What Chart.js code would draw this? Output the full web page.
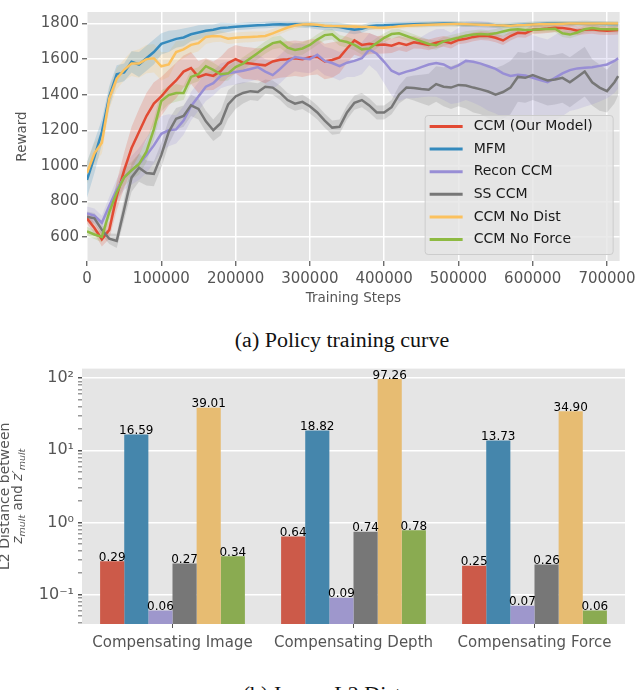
<!DOCTYPE html>
<html>
<head>
  <title>CCM policy training curve and L2 distance</title>
  <script src="https://cdn.jsdelivr.net/npm/chart.js"></script>
  <style>
    body { margin: 0; background: #fff; width: 640px; height: 690px; overflow: hidden; position: relative; }
    #curveChart { position: absolute; left: 0; top: 0; }
    #barChart { position: absolute; left: -2px; top: 355px; }
    .caption { position: absolute; left: 22px; width: 640px; text-align: center; font-family: 'Liberation Serif', 'Times New Roman', serif; font-size: 20px; line-height: 22px; color: #111; transform: scaleX(1.1); }
  </style>
</head>
<body>
  <canvas id="curveChart" width="640" height="312"></canvas>
  <div class="caption" style="top: 329px;">(a) Policy training curve</div>
  <canvas id="barChart" width="642" height="310"></canvas>
  <div class="caption" style="top: 683px;">(b) Image L2 Distance</div>

  <script>
    // ---- (a) training curves ----
    const steps = [
      0, 10000, 20000, 30000, 40000, 50000, 60000, 70000, 80000, 90000,
      100000, 110000, 120000, 130000, 140000, 150000, 160000, 170000, 180000, 190000,
      200000, 210000, 220000, 230000, 240000, 250000, 260000, 270000, 280000, 290000,
      300000, 310000, 320000, 330000, 340000, 350000, 360000, 370000, 380000, 390000,
      400000, 410000, 420000, 430000, 440000, 450000, 460000, 470000, 480000, 490000,
      500000, 510000, 520000, 530000, 540000, 550000, 560000, 570000, 580000, 590000,
      600000, 610000, 620000, 630000, 640000, 650000, 660000, 670000, 680000, 690000,
      700000, 710000, 715000
    ];
    const stepTicks = [0, 100000, 200000, 300000, 400000, 500000, 600000, 700000];
    const rewardTicks = [600, 800, 1000, 1200, 1400, 1600, 1800];

    const seriesNames = ['CCM (Our Model)', 'MFM', 'Recon CCM', 'SS CCM', 'CCM No Dist', 'CCM No Force'];
    const lineColors = ['#E24A33', '#348ABD', '#988ED5', '#777777', '#FBC15E', '#8EBA42'];
    const bandColors = ['rgba(226,74,51,0.2)', 'rgba(52,138,189,0.2)', 'rgba(152,142,213,0.2)',
                        'rgba(119,119,119,0.22)', 'rgba(251,193,94,0.2)', 'rgba(142,186,66,0.2)'];

    const ccmReward = [
      705, 650, 587, 640, 830, 975, 1100, 1190, 1280, 1350,
      1390, 1440, 1480, 1530, 1550, 1500, 1515, 1506, 1533, 1578,
      1600, 1580, 1575, 1570, 1565, 1587, 1596, 1600, 1605, 1600,
      1610, 1614, 1587, 1595, 1610, 1660, 1705, 1680, 1687, 1680,
      1682, 1675, 1690, 1680, 1695, 1688, 1680, 1692, 1700, 1690,
      1708, 1714, 1725, 1732, 1730, 1720, 1705, 1730, 1748, 1745,
      1765, 1768, 1772, 1777, 1775, 1770, 1760, 1765, 1768, 1762,
      1760, 1762, 1764
    ];
    const mfmReward = [
      921, 1050, 1190, 1390, 1515, 1525, 1585, 1570, 1605, 1640,
      1686, 1700, 1714, 1722, 1740, 1750, 1759, 1765, 1775, 1778,
      1782, 1785, 1788, 1790, 1792, 1795, 1796, 1795, 1796, 1793,
      1792, 1788, 1785, 1785, 1780, 1772, 1765, 1770, 1785, 1789,
      1790, 1792, 1794, 1795, 1796, 1797, 1798, 1799, 1800, 1800,
      1798, 1796, 1795, 1794, 1793, 1790, 1788, 1790, 1792, 1794,
      1796, 1798, 1800, 1801, 1800, 1799, 1800, 1801, 1800, 1799,
      1798, 1797, 1797
    ];
    const reconReward = [
      732, 720, 680, 775, 865, 935, 975, 1010, 1060, 1115,
      1180, 1200, 1205, 1255, 1335, 1390, 1445, 1465, 1506, 1520,
      1528, 1535, 1545, 1555, 1530, 1510, 1545, 1585, 1612, 1605,
      1600, 1625, 1590, 1578, 1560, 1580, 1590, 1605, 1655, 1630,
      1585, 1535, 1515, 1530, 1540, 1555, 1570, 1578, 1570, 1548,
      1565, 1590, 1585, 1575, 1560, 1545, 1520, 1505, 1512, 1508,
      1495, 1482, 1470, 1495, 1520, 1538, 1548, 1552, 1555, 1562,
      1570, 1590, 1605
    ];
    const ssReward = [
      714, 705, 640, 590, 578, 755, 935, 990, 960, 955,
      1060, 1190, 1265, 1280, 1340, 1320, 1250, 1200, 1240, 1345,
      1390, 1410, 1420, 1415, 1445, 1440, 1410, 1370, 1350, 1360,
      1335, 1300, 1254, 1215, 1220, 1300, 1355, 1370, 1340, 1300,
      1300, 1330, 1400, 1440, 1438, 1432, 1428, 1460, 1445, 1440,
      1455, 1452, 1440, 1430, 1418, 1400, 1415, 1440, 1500, 1495,
      1510, 1495, 1480, 1485, 1495, 1470, 1500, 1530, 1470, 1440,
      1420, 1470, 1505
    ];
    const noDistReward = [
      960, 1070, 1130, 1380, 1490, 1540, 1575, 1575, 1600, 1605,
      1560, 1570, 1640, 1655, 1680, 1690, 1725, 1730, 1728, 1715,
      1720, 1723, 1725, 1727, 1730, 1745, 1762, 1778, 1789, 1795,
      1796, 1793, 1788, 1786, 1785, 1783, 1783, 1780, 1780, 1778,
      1777, 1780, 1785, 1788, 1790, 1792, 1794, 1795, 1796, 1797,
      1797, 1796, 1795, 1794, 1792, 1790, 1789, 1788, 1790, 1792,
      1795, 1796, 1797, 1798, 1799, 1800, 1800, 1801, 1800, 1800,
      1800, 1800, 1801
    ];
    const noForceReward = [
      632, 614, 600, 740, 850, 935, 975, 1010, 1080, 1205,
      1365, 1398, 1410, 1410, 1500, 1515, 1560, 1540, 1515, 1520,
      1555, 1575, 1605, 1635, 1665, 1690, 1698, 1665, 1652, 1660,
      1680, 1710, 1735, 1740, 1705, 1696, 1680, 1655, 1660, 1690,
      1720, 1741, 1745, 1730, 1715, 1700, 1685, 1678, 1700, 1710,
      1720, 1732, 1738, 1741, 1738, 1745, 1755, 1765, 1768, 1764,
      1765, 1768, 1770, 1771, 1745, 1738, 1750, 1768, 1775, 1770,
      1768, 1770, 1768
    ];

    // half-width of the shaded band around each curve
    const ccmSpread = [
      30, 30, 40, 50, 80, 100, 120, 130, 130, 120,
      110, 100, 100, 90, 90, 90, 90, 80, 80, 80,
      80, 90, 90, 90, 100, 100, 100, 100, 100, 100,
      100, 100, 100, 100, 90, 80, 80, 70, 60, 50,
      50, 40, 40, 40, 35, 30, 30, 30, 30, 30,
      25, 25, 25, 25, 25, 25, 25, 25, 25, 25,
      25, 25, 25, 25, 25, 25, 25, 25, 25, 25,
      25, 25, 25
    ];
    const mfmSpread = [
      100, 90, 70, 60, 50, 50, 60, 70, 70, 70,
      60, 60, 50, 50, 40, 40, 35, 30, 30, 25,
      20, 20, 20, 18, 18, 18, 16, 16, 16, 16,
      18, 20, 22, 22, 25, 25, 25, 22, 20, 18,
      16, 15, 15, 15, 15, 15, 15, 15, 15, 15,
      15, 15, 15, 15, 15, 15, 15, 15, 15, 15,
      15, 15, 15, 15, 15, 15, 15, 15, 15, 15,
      15, 15, 15
    ];
    const reconSpread = [
      40, 40, 40, 50, 60, 70, 80, 90, 100, 100,
      100, 90, 80, 80, 80, 80, 80, 70, 70, 70,
      70, 70, 70, 70, 70, 80, 80, 80, 80, 80,
      80, 80, 80, 80, 80, 80, 90, 90, 90, 100,
      120, 140, 150, 150, 160, 170, 180, 190, 200, 200,
      210, 220, 230, 240, 250, 250, 250, 250, 250, 250,
      240, 240, 240, 240, 240, 230, 230, 220, 210, 200,
      190, 180, 170
    ];
    const ssSpread = [
      30, 30, 30, 30, 40, 60, 80, 80, 70, 70,
      70, 70, 60, 60, 60, 60, 60, 60, 70, 80,
      70, 60, 50, 50, 40, 40, 40, 40, 40, 40,
      40, 40, 40, 40, 40, 40, 40, 40, 40, 40,
      40, 40, 50, 60, 70, 80, 90, 100, 110, 120,
      120, 130, 140, 140, 150, 150, 150, 150, 140, 140,
      140, 140, 140, 140, 140, 140, 140, 140, 130, 130,
      120, 120, 110
    ];
    const noDistSpread = [
      60, 60, 60, 60, 60, 60, 70, 80, 80, 80,
      80, 70, 60, 50, 50, 45, 40, 35, 30, 30,
      30, 30, 30, 28, 26, 24, 22, 20, 18, 16,
      15, 15, 15, 15, 15, 15, 15, 15, 15, 15,
      15, 15, 15, 15, 15, 15, 15, 15, 15, 15,
      15, 15, 15, 15, 15, 15, 15, 15, 15, 15,
      15, 15, 15, 15, 15, 15, 15, 15, 15, 15,
      15, 15, 15
    ];
    const noForceSpread = [
      25, 25, 30, 40, 50, 50, 50, 60, 60, 60,
      60, 50, 50, 40, 40, 40, 40, 40, 40, 40,
      35, 35, 35, 35, 35, 35, 35, 35, 35, 35,
      30, 30, 30, 30, 30, 30, 30, 30, 30, 30,
      25, 25, 25, 25, 25, 25, 25, 25, 25, 25,
      25, 25, 25, 25, 25, 25, 25, 25, 25, 25,
      20, 20, 20, 20, 20, 20, 20, 20, 20, 20,
      20, 20, 20
    ];

    // ---- (b) L2 distance bars ----
    const taskNames = ['Compensating Image', 'Compensating Depth', 'Compensating Force'];
    const ccmDist = [0.29, 0.64, 0.25];
    const mfmDist = [16.59, 18.82, 13.73];
    const reconDist = [0.06, 0.09, 0.07];
    const ssDist = [0.27, 0.74, 0.26];
    const noDistDist = [39.01, 97.26, 34.90];
    const noForceDist = [0.34, 0.78, 0.06];
    const barColors = ['#CC5A49', '#4586AC', '#9E97CC', '#777777', '#E7BC72', '#8AAB51'];
    const logTickVals = [0.1, 1, 10, 100];
    const logTickText = ['10\u207B\u00B9', '10\u2070', '10\u00B9', '10\u00B2'];

    Chart.defaults.font.family = "'DejaVu Sans', sans-serif";
    Chart.defaults.color = '#555';

    const plotBg = {
      id: 'plotBg',
      beforeDraw(chart) {
        const { ctx, chartArea: a } = chart;
        ctx.save();
        ctx.fillStyle = '#e5e5e5';
        ctx.fillRect(a.left, a.top, a.right - a.left, a.bottom - a.top);
        ctx.restore();
      }
    };

    // legend box drawn inside the plot, lower right
    const boxLegend = {
      id: 'boxLegend',
      afterDraw(chart) {
        const ctx = chart.ctx;
        const w = 188, h = 139;
        const x = chart.chartArea.right - w - 7, y = 115;
        ctx.save();
        ctx.fillStyle = 'rgba(229,229,229,0.8)';
        ctx.strokeStyle = '#cccccc';
        ctx.lineWidth = 1;
        ctx.beginPath();
        ctx.roundRect(x + 0.5, y + 0.5, w, h, 3);
        ctx.fill();
        ctx.stroke();
        ctx.font = "14px 'DejaVu Sans'";
        ctx.textBaseline = 'middle';
        seriesNames.forEach((name, i) => {
          const ry = y + 11.5 + i * 22.6;
          ctx.strokeStyle = lineColors[i];
          ctx.lineWidth = 3;
          ctx.beginPath();
          ctx.moveTo(x + 5, ry);
          ctx.lineTo(x + 38, ry);
          ctx.stroke();
          ctx.fillStyle = '#1a1a1a';
          ctx.fillText(name, x + 49, ry);
        });
        ctx.restore();
      }
    };

    const rewards = [ccmReward, mfmReward, reconReward, ssReward, noDistReward, noForceReward];
    const spreads = [ccmSpread, mfmSpread, reconSpread, ssSpread, noDistSpread, noForceSpread];

    const curveSets = [];
    rewards.forEach((vals, k) => {
      const spr = spreads[k];
      curveSets.push({ data: vals.map((v, i) => v + spr[i]), borderWidth: 0, pointRadius: 0, fill: false, order: 100 });
      curveSets.push({ data: vals.map((v, i) => v - spr[i]), borderWidth: 0, pointRadius: 0, fill: '-1',
                       backgroundColor: bandColors[k], order: 100 });
    });
    rewards.forEach((vals, k) => {
      curveSets.push({ label: seriesNames[k], data: vals, borderColor: lineColors[k], borderWidth: 2.5,
                       pointRadius: 0, fill: false, tension: 0, order: 6 - k });
    });

    new Chart(document.getElementById('curveChart'), {
      type: 'line',
      data: { labels: steps, datasets: curveSets },
      options: {
        responsive: false,
        animation: false,
        layout: { padding: { top: 2, right: 15, bottom: 0, left: 0 } },
        plugins: { legend: { display: false }, tooltip: { enabled: false } },
        scales: {
          x: {
            type: 'linear', min: 0, max: 717000,
            afterBuildTicks: s => { s.ticks = stepTicks.map(v => ({ value: v })); },
            afterFit: s => { s.height = 51; },
            grid: { color: '#ffffff', lineWidth: 1.5, tickColor: '#555', tickLength: 5, tickWidth: 1.2 },
            border: { display: false },
            ticks: { font: { size: 15 }, color: '#555', padding: 4, maxRotation: 0, autoSkip: false, callback: v => String(v) },
            title: { display: true, text: 'Training Steps', font: { size: 13.5 }, color: '#555', padding: { top: 0, bottom: 5 } }
          },
          y: {
            min: 465, max: 1865,
            afterBuildTicks: s => { s.ticks = rewardTicks.map(v => ({ value: v })); },
            afterFit: s => { s.width = 87; },
            grid: { color: '#ffffff', lineWidth: 1.5, tickColor: '#555', tickLength: 5, tickWidth: 1.2 },
            border: { display: false },
            ticks: { font: { size: 15 }, color: '#555', padding: 3, autoSkip: false, callback: v => String(v) },
            title: { display: true, text: 'Reward', font: { size: 13.5 }, color: '#555', padding: { top: 14, bottom: 0 } }
          }
        }
      },
      plugins: [plotBg, boxLegend]
    });

    const barValueLabels = {
      id: 'barValueLabels',
      afterDatasetsDraw(chart) {
        const ctx = chart.ctx;
        ctx.save();
        ctx.font = "12px 'DejaVu Sans'";
        ctx.fillStyle = '#000';
        ctx.textAlign = 'center';
        ctx.textBaseline = 'alphabetic';
        chart.data.datasets.forEach((ds, k) => {
          chart.getDatasetMeta(k).data.forEach((bar, i) => {
            ctx.fillText(ds.data[i].toFixed(2), bar.x, bar.y - 0.5);
          });
        });
        ctx.restore();
      }
    };

    // two-line y title with italic z and subscript "mult"
    const distTitle = {
      id: 'distTitle',
      afterDraw(chart) {
        const ctx = chart.ctx;
        const cy = (chart.chartArea.top + chart.chartArea.bottom) / 2;
        ctx.save();
        ctx.fillStyle = '#555';
        ctx.textBaseline = 'alphabetic';
        ctx.translate(11, cy);
        ctx.rotate(-Math.PI / 2);
        ctx.font = "14px 'DejaVu Sans'";
        ctx.textAlign = 'center';
        ctx.fillText('L2 Distance between', 0, 0);
        const parts = [
          { t: 'z', f: "italic 14px 'DejaVu Sans'", dy: 0 },
          { t: 'mult', f: "italic 9.5px 'DejaVu Sans'", dy: 3 },
          { t: ' and ', f: "13.5px 'DejaVu Sans'", dy: 0 },
          { t: 'z\u2032', f: "italic 14px 'DejaVu Sans'", dy: 0 },
          { t: 'mult', f: "italic 9.5px 'DejaVu Sans'", dy: 3 }
        ];
        let total = 0;
        parts.forEach(p => { ctx.font = p.f; p.w = ctx.measureText(p.t).width; total += p.w; });
        ctx.textAlign = 'left';
        let px = -total / 2;
        parts.forEach(p => { ctx.font = p.f; ctx.fillText(p.t, px, 13 + p.dy); px += p.w; });
        ctx.restore();
      }
    };

    const distSets = [ccmDist, mfmDist, reconDist, ssDist, noDistDist, noForceDist].map((vals, k) => ({
      label: seriesNames[k], data: vals, backgroundColor: barColors[k], borderWidth: 0,
      barPercentage: 1.0, categoryPercentage: 0.8
    }));
    const isDecade = v => Math.abs(Math.log10(v) - Math.round(Math.log10(v))) < 1e-9;

    new Chart(document.getElementById('barChart'), {
      type: 'bar',
      data: { labels: taskNames, datasets: distSets },
      options: {
        responsive: false,
        animation: false,
        layout: { padding: { top: 8, right: 15, bottom: 0, left: 0 } },
        plugins: { legend: { display: false }, tooltip: { enabled: false } },
        scales: {
          x: {
            afterFit: s => { s.height = 41; },
            grid: { offset: false, drawOnChartArea: false, tickColor: '#555', tickLength: 4 },
            border: { display: false },
            ticks: { font: { size: 15 }, color: '#555', padding: 6 }
          },
          y: {
            type: 'logarithmic', min: 0.039, max: 136,
            afterBuildTicks: s => {
              const t = [];
              for (let e = -2; e <= 2; e++) {
                for (let m = 1; m <= 9; m++) {
                  const v = m * Math.pow(10, e);
                  if (v >= s.min && v <= s.max) t.push({ value: v });
                }
              }
              s.ticks = t;
            },
            afterFit: s => { s.width = 84; },
            grid: {
              color: c => (c.tick && isDecade(c.tick.value)) ? '#ffffff' : 'rgba(0,0,0,0)',
              lineWidth: 1.5,
              tickColor: c => (c.tick && isDecade(c.tick.value)) ? '#555' : '#999',
              tickLength: 4
            },
            border: { display: false },
            ticks: {
              autoSkip: false, font: { size: 16 }, color: '#555', padding: 4,
              callback: v => { const j = logTickVals.findIndex(t => Math.abs(t - v) < 1e-9); return j >= 0 ? logTickText[j] : ''; }
            }
          }
        }
      },
      plugins: [plotBg, barValueLabels, distTitle]
    });
  </script>
</body>
</html>
